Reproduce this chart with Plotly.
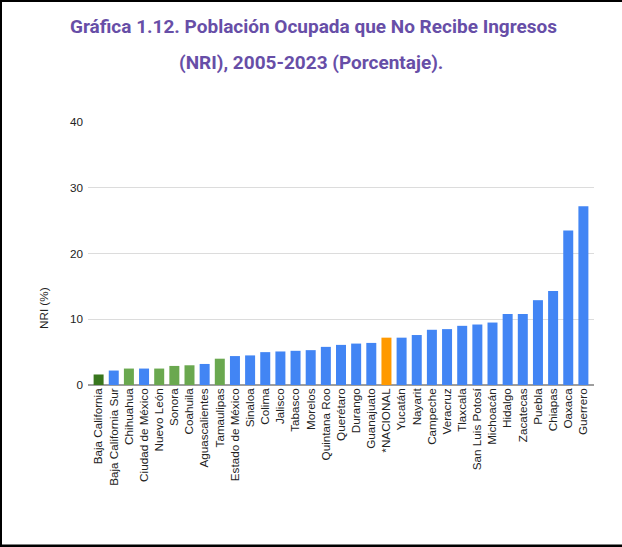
import plotly.graph_objects as go

categories = ["Baja California", "Baja California Sur", "Chihuahua", "Ciudad de México",
              "Nuevo León", "Sonora", "Coahuila", "Aguascalientes", "Tamaulipas",
              "Estado de México", "Sinaloa", "Colima", "Jalisco", "Tabasco", "Morelos",
              "Quintana Roo", "Querétaro", "Durango", "Guanajuato", "*NACIONAL", "Yucatán",
              "Nayarit", "Campeche", "Veracruz", "Tlaxcala", "San Luis Potosí", "Michoacán",
              "Hidalgo", "Zacatecas", "Puebla", "Chiapas", "Oaxaca", "Guerrero"]
values = [1.6, 2.2, 2.5, 2.5, 2.5, 2.9, 3.0, 3.2, 4.0, 4.4, 4.5, 5.0, 5.1, 5.2, 5.3,
          5.8, 6.1, 6.3, 6.4, 7.2, 7.2, 7.6, 8.4, 8.5, 9.0, 9.2, 9.5, 10.8, 10.8,
          12.9, 14.3, 23.5, 27.2]
y_ticks = [0, 10, 20, 30, 40]
title_line1 = "Gráfica 1.12. Población Ocupada que No Recibe Ingresos"
title_line2 = "(NRI), 2005-2023 (Porcentaje)."
y_title = "NRI (%)"

# styling
BLUE = "#4285F4"
special_colors = {
    "Baja California": "#38761D",
    "Chihuahua": "#6AA84F",
    "Nuevo León": "#6AA84F",
    "Sonora": "#6AA84F",
    "Coahuila": "#6AA84F",
    "Tamaulipas": "#6AA84F",
    "*NACIONAL": "#FF9900",
}
colors = [special_colors.get(c, BLUE) for c in categories]

W, H = 622, 547
L, R, T, B = 88, 28, 122, 162
pw, ph = W - L - R, H - T - B

fig = go.Figure(go.Bar(x=categories, y=values, marker=dict(color=colors, line=dict(width=0))))

font_axis = "Arial, Liberation Sans, sans-serif"
fig.update_layout(
    width=W, height=H,
    margin=dict(l=L, r=R, t=T, b=B, pad=0),
    paper_bgcolor="white", plot_bgcolor="white",
    bargap=0.34,
    showlegend=False,
    font=dict(family=font_axis, size=11.7, color="#222222"),
)
fig.update_xaxes(
    range=[-0.7, len(categories) - 0.3],
    tickangle=-90, tickfont=dict(size=11.7, color="#222222", family=font_axis),
    showgrid=False, showline=False, ticks="", zeroline=False,
    automargin=False,
)
fig.update_yaxes(
    range=[0, 40], tickvals=y_ticks, ticktext=[str(v) for v in y_ticks],
    tickfont=dict(size=11.7, color="#222222", family=font_axis),
    showgrid=True, gridcolor="#dcdcdc", gridwidth=1,
    zeroline=True, zerolinecolor="#9e9e9e", zerolinewidth=1.5,
    showline=False, ticks="", ticklabelstandoff=4,
    automargin=False,
)

def px_x(x):
    return (x - L) / pw

def px_y(y):
    return (H - B - y) / ph

fig.add_annotation(text=f"<b>{title_line1}</b>", x=px_x(313), y=px_y(26), xref="paper", yref="paper",
                   showarrow=False, xanchor="center", yanchor="middle",
                   font=dict(family="Roboto, sans-serif", size=19, color="#674EA7"))
fig.add_annotation(text=f"<b>{title_line2}</b>", x=px_x(311), y=px_y(63), xref="paper", yref="paper",
                   showarrow=False, xanchor="center", yanchor="middle",
                   font=dict(family="Roboto, sans-serif", size=19, color="#674EA7"))
fig.add_annotation(text=y_title, x=px_x(43), y=px_y(308), xref="paper", yref="paper",
                   showarrow=False, xanchor="center", yanchor="middle", textangle=-90,
                   font=dict(family=font_axis, size=11.7, color="#222222"))

# black frame lines (left, top, bottom)
for x0, y0, x1, y1 in [(0, 0, 2, H), (0, 0, W, 2), (0, H - 2.5, W, H)]:
    fig.add_shape(type="rect", xref="paper", yref="paper",
                  x0=px_x(x0), x1=px_x(x1), y0=px_y(y0), y1=px_y(y1),
                  fillcolor="black", line=dict(width=0), layer="above")

fig.write_html("out.html",
               config={"displayModeBar": False},
               post_script="document.body.style.margin='0';document.body.style.overflow='hidden';")
